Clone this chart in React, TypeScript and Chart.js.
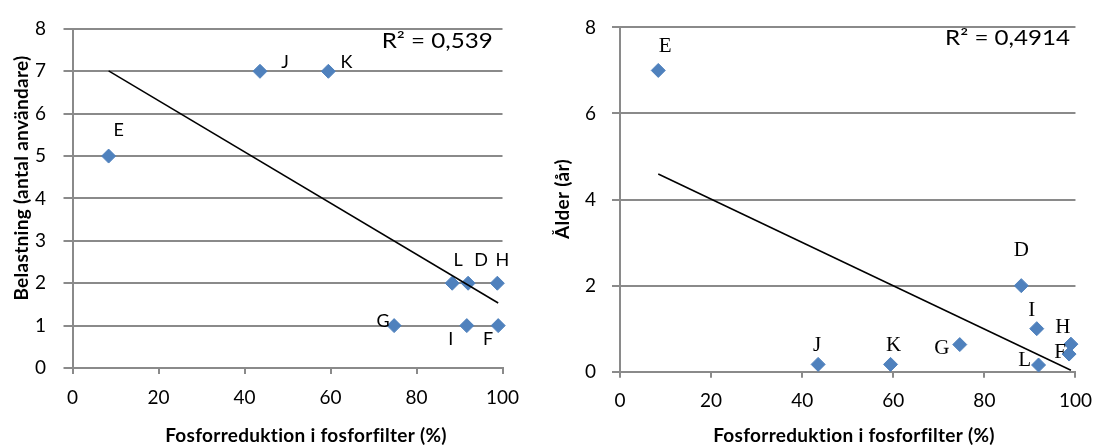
import React, { useEffect, useRef } from 'react';
import { Chart, registerables } from 'chart.js';

Chart.register(...registerables);

// ---------- Data ----------
const xTickValues = [0, 20, 40, 60, 80, 100];

// Left chart: Belastning vs fosforreduktion
const names1 = ['E', 'J', 'K', 'L', 'D', 'H', 'G', 'I', 'F'];
const reduction1 = [8.4, 43.6, 59.5, 88.3, 92.0, 98.8, 74.8, 91.7, 99.0];
const load1 = [5, 7, 7, 2, 2, 2, 1, 1, 1];
const yTickValues1 = [0, 1, 2, 3, 4, 5, 6, 7, 8];
const r2Text1 = 'R² = 0,539';
const xTitle1 = 'Fosforreduktion i fosforfilter (%)';
const yTitle1 = 'Belastning (antal användare)';

// Right chart: Ålder vs fosforreduktion
const names2 = ['E', 'J', 'K', 'G', 'D', 'I', 'H', 'F', 'L'];
const reduction2 = [8.4, 43.5, 59.4, 74.6, 88.1, 91.5, 99.0, 98.6, 91.9];
const age2 = [7.0, 0.17, 0.17, 0.63, 2.0, 1.0, 0.64, 0.41, 0.155];
const yTickValues2 = [0, 2, 4, 6, 8];
const r2Text2 = 'R² = 0,4914';
const xTitle2 = 'Fosforreduktion i fosforfilter (%)';
const yTitle2 = 'Ålder (år)';

// label placement relative to each marker (dx, dy in px)
const labelOffsets1 = [[10, -26], [25, -9], [18, -9], [6, -23], [13, -23], [5, -23], [-11, -4], [-16, 14], [-10, 14]];
const labelOffsets2 = [[7, -24], [-1, -19], [3, -19], [-18, 4], [0, -35], [-5, -18], [-8, -17], [-9, -2], [-14, -5]];

const GRID = '#8a8a8a';
const BLUE = '#4F81BD';

function regression(xs: number[], ys: number[]) {
  const n = xs.length;
  const mx = xs.reduce((a, b) => a + b, 0) / n;
  const my = ys.reduce((a, b) => a + b, 0) / n;
  let sxy = 0, sxx = 0;
  for (let i = 0; i < n; i++) {
    sxy += (xs[i] - mx) * (ys[i] - my);
    sxx += (xs[i] - mx) ** 2;
  }
  const b = sxy / sxx;
  const a = my - b * mx;
  const x0 = Math.min(...xs);
  const x1 = Math.max(...xs);
  return [{ x: x0, y: a + b * x0 }, { x: x1, y: a + b * x1 }];
}

type Cfg = {
  xs: number[]; ys: number[]; names: string[]; offsets: number[][];
  labelFont: string; yTicks: number[]; yMax: number;
  area: { left: number; top: number; right: number; bottom: number };
  yTickLen: number; yTickPad: number;
  r2: string; r2Pos: number[];
  xTitle: string; xTitlePos: number[];
  yTitle: string; yTitlePos: number[];
};

const W = 552, H = 445;
const TITLE_FONT = 'bold 19px Lato';
const TICK_FONT = { family: 'Lato', size: 19 };

function makeOverlay(cfg: Cfg) {
  return {
    id: 'overlay',
    afterDatasetsDraw(chart: any) {
      const ctx = chart.ctx;
      const meta = chart.getDatasetMeta(1);
      ctx.save();
      ctx.fillStyle = '#000';
      ctx.textAlign = 'center';
      ctx.textBaseline = 'middle';
      ctx.font = cfg.labelFont;
      cfg.names.forEach((t, i) => {
        const el = meta.data[i];
        const [dx, dy] = cfg.offsets[i];
        ctx.fillText(t, el.x + dx, el.y + dy);
      });
      // R² annotation (slightly widened to match the reference face)
      ctx.save();
      ctx.font = '21px Lato';
      ctx.textAlign = 'left';
      ctx.translate(cfg.r2Pos[0], cfg.r2Pos[1]);
      ctx.scale(1.15, 1);
      ctx.fillText(cfg.r2, 0, 0);
      ctx.restore();
      // axis titles
      ctx.font = TITLE_FONT;
      (ctx as any).letterSpacing = '0.3px';
      ctx.textAlign = 'center';
      ctx.fillText(cfg.xTitle, cfg.xTitlePos[0], cfg.xTitlePos[1]);
      ctx.translate(cfg.yTitlePos[0], cfg.yTitlePos[1]);
      ctx.rotate(-Math.PI / 2);
      ctx.fillText(cfg.yTitle, 0, 0);
      ctx.restore();
    },
  };
}

function buildConfig(cfg: Cfg): any {
  const points = cfg.xs.map((x, i) => ({ x, y: cfg.ys[i] }));
  const trend = regression(cfg.xs, cfg.ys);
  return {
    type: 'scatter',
    data: {
      datasets: [
        {
          type: 'line',
          data: trend,
          borderColor: '#000',
          borderWidth: 1.5,
          pointRadius: 0,
          fill: false,
          clip: false,
        },
        {
          data: points,
          pointStyle: 'rectRot',
          pointRadius: 7,
          pointBackgroundColor: BLUE,
          pointBorderColor: BLUE,
          pointBorderWidth: 1,
          clip: false,
        },
      ],
    },
    options: {
      responsive: false,
      animation: false,
      devicePixelRatio: 1,
      layout: {
        padding: { left: 0, top: cfg.area.top, right: W - cfg.area.right, bottom: 0 },
      },
      plugins: { legend: { display: false }, tooltip: { enabled: false } },
      scales: {
        x: {
          type: 'linear',
          min: 0,
          max: 100,
          afterBuildTicks: (s: any) => { s.ticks = xTickValues.map((v) => ({ value: v })); },
          afterFit: (s: any) => { s.height = H - cfg.area.bottom; },
          grid: { drawOnChartArea: false, color: GRID, lineWidth: 2, tickLength: 6 },
          border: { color: GRID, width: 2 },
          ticks: { font: TICK_FONT, color: '#000', padding: 12, maxRotation: 0, autoSkip: false },
        },
        y: {
          type: 'linear',
          min: 0,
          max: cfg.yMax,
          afterBuildTicks: (s: any) => { s.ticks = cfg.yTicks.map((v) => ({ value: v })); },
          afterFit: (s: any) => { s.width = cfg.area.left; },
          grid: { color: GRID, lineWidth: 2, tickLength: cfg.yTickLen },
          border: { color: GRID, width: 2 },
          ticks: { font: TICK_FONT, color: '#000', padding: cfg.yTickPad, autoSkip: false },
        },
      },
    },
    plugins: [makeOverlay(cfg)],
  };
}

const leftCfg: Cfg = {
  xs: reduction1, ys: load1, names: names1, offsets: labelOffsets1,
  labelFont: '18px Lato', yTicks: yTickValues1, yMax: 8,
  area: { left: 72.5, top: 22.3, right: 502.5, bottom: 368 },
  yTickLen: 9, yTickPad: 17.5,
  r2: r2Text1, r2Pos: [381.7, 41.7],
  xTitle: xTitle1, xTitlePos: [306, 436],
  yTitle: yTitle1, yTitlePos: [21.5, 178],
};

const rightCfg: Cfg = {
  xs: reduction2, ys: age2, names: names2, offsets: labelOffsets2,
  labelFont: '21px "Liberation Serif"', yTicks: yTickValues2, yMax: 8,
  area: { left: 68, top: 25.7, right: 534, bottom: 371.7 },
  yTickLen: 8, yTickPad: 16,
  r2: r2Text2, r2Pos: [393, 38],
  xTitle: xTitle2, xTitlePos: [302, 436],
  yTitle: yTitle2, yTitlePos: [11, 199],
};

function ChartCanvas({ cfg, left }: { cfg: Cfg; left: number }) {
  const ref = useRef<HTMLCanvasElement | null>(null);
  useEffect(() => {
    if (!ref.current) return;
    const chart = new Chart(ref.current, buildConfig(cfg));
    return () => chart.destroy();
  }, [cfg]);
  return (
    <canvas
      ref={ref}
      width={W}
      height={H}
      style={{ position: 'absolute', left, top: 0, width: W, height: H, display: 'block' }}
    />
  );
}

export default function App() {
  return (
    <div style={{ position: 'absolute', left: 0, top: 0, width: 1104, height: 445, background: '#fff' }}>
      <ChartCanvas cfg={leftCfg} left={0} />
      <ChartCanvas cfg={rightCfg} left={552} />
    </div>
  );
}
